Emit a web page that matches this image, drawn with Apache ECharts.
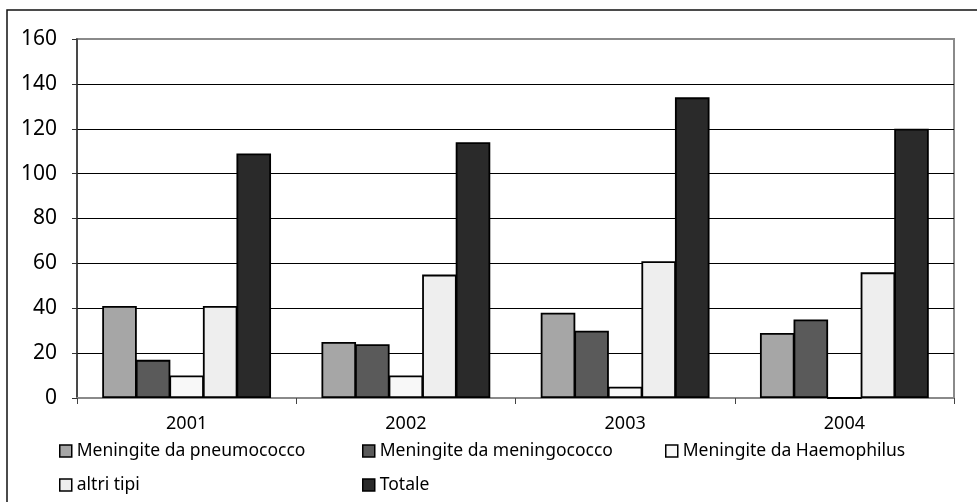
<!DOCTYPE html>
<html>
<head>
<meta charset="utf-8">
<script src="https://cdn.jsdelivr.net/npm/echarts@6/dist/echarts.min.js"></script>
<style>html,body{margin:0;padding:0;background:#fff}#c{width:977px;height:502px}</style>
</head>
<body>
<div id="c"></div>
<script>
var years = ['2001', '2002', '2003', '2004'];
var yTicks = [0, 20, 40, 60, 80, 100, 120, 140, 160];
var pneumococco = [41, 25, 38, 29];
var meningococco = [17, 24, 30, 35];
var haemophilus = [10, 10, 5, 0];
var altriTipi = [41, 55, 61, 56];
var totale = [109, 114, 134, 120];

var seriesNames = ['Meningite da pneumococco', 'Meningite da meningococco', 'Meningite da Haemophilus', 'altri tipi', 'Totale'];
var seriesData = [pneumococco, meningococco, haemophilus, altriTipi, totale];
var colors = ['#a6a6a6', '#5a5a5a', '#f8f8f8', '#eeeeee', '#2a2a2a'];

var FONT = 'Noto Sans';
var legendPos = [[59, 442], [362, 442], [665, 442], [59, 476], [362, 476]];

var series = seriesNames.map(function (n, i) {
  return {
    name: n, type: 'bar', data: seriesData[i],
    barGap: '-3%', barCategoryGap: '23%',
    itemStyle: { color: colors[i], borderColor: '#000', borderWidth: 1.8 },
    animation: false
  };
});

var legends = seriesNames.map(function (n, i) {
  return {
    data: [n], left: legendPos[i][0], top: legendPos[i][1],
    itemWidth: 12, itemHeight: 12, itemGap: 0, padding: 0,
    icon: 'rect',
    itemStyle: { borderColor: '#000', borderWidth: 1.5 },
    textStyle: { fontFamily: FONT, fontSize: 17.5, color: '#000', padding: [0, 0, 0, 0] },
    selectedMode: false
  };
});

var splitColors = yTicks.map(function (v, i) { return i === yTicks.length - 1 ? '#8a8a8a' : '#000'; });

var chart = echarts.init(document.getElementById('c'));
chart.setOption({
  animation: false,
  color: colors,
  grid: { left: 77, right: 23, top: 39, bottom: 104, show: true, borderColor: '#8a8a8a', borderWidth: 2, backgroundColor: 'transparent' },
  legend: legends,
  xAxis: {
    type: 'category', data: years,
    axisLine: { lineStyle: { color: '#8a8a8a', width: 2 } },
    axisTick: { show: true, length: 6, lineStyle: { color: '#444', width: 1 } },
    axisLabel: { fontFamily: FONT, fontSize: 18, color: '#000', margin: 17 }
  },
  yAxis: {
    type: 'value', min: 0, max: 160, interval: 20,
    axisLine: { show: true, lineStyle: { color: '#333', width: 1.5 } },
    axisTick: { show: true, length: 5, lineStyle: { color: '#333', width: 1 } },
    splitLine: { lineStyle: { color: splitColors, width: 1.2 } },
    axisLabel: { fontFamily: FONT, fontSize: 21, color: '#000', margin: 20 }
  },
  graphic: [{
    type: 'rect', shape: { x: 7, y: 10, width: 1100, height: 700 },
    style: { fill: 'none', stroke: '#111', lineWidth: 1.5 }, silent: true, z: 100
  }],
  series: series
});
</script>
</body>
</html>
